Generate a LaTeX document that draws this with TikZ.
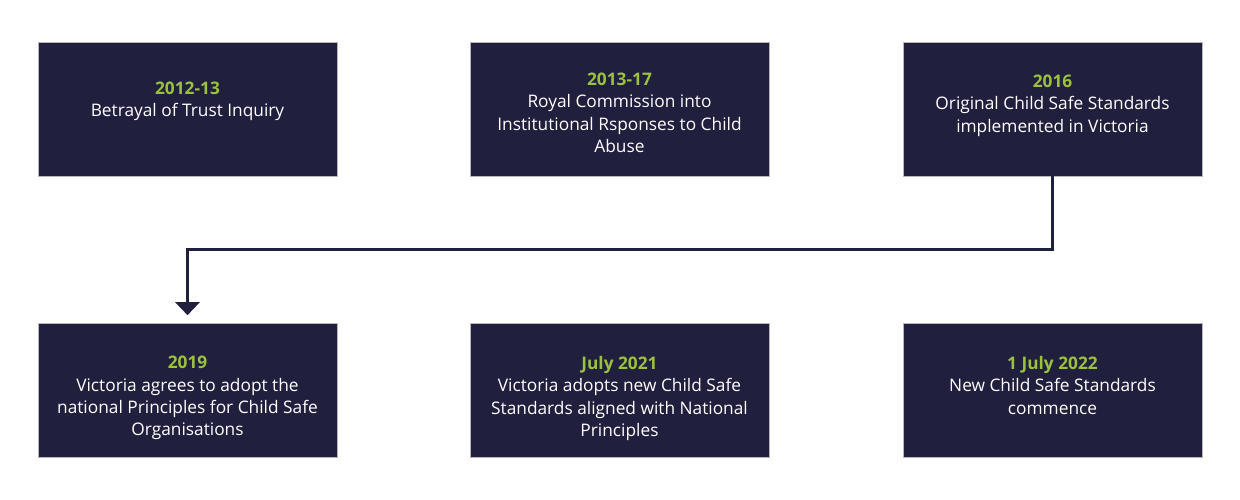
\documentclass[tikz,border=0pt]{standalone}
\usepackage{fontspec}
\setmainfont{Open Sans}
\usetikzlibrary{arrows.meta}
\definecolor{navy}{HTML}{201F3D}
\definecolor{lime}{HTML}{9BC23C}
\tikzset{
  eventbox/.style={draw=black!28, line width=0.6pt, fill=navy, minimum width=299pt, minimum height=134pt, inner sep=0pt},
  eventtext/.style={anchor=north, align=center, text=white, inner sep=0pt, font=\fontsize{17.3}{22.3}\selectfont},
  flow/.style={draw=navy, line width=3pt, -{Triangle[width=24pt,length=13pt]}}
}
\newcommand{\yr}[1]{{\color{lime}\bfseries #1}}

\begin{document}
\begin{tikzpicture}[x=1pt,y=1pt]
	%%%%% START %%%%%
	\useasboundingbox (0,0) rectangle (1240,500);
	
	% top row
	\node[eventbox] (trust) at (187.5, 391) {};
	\node[eventbox] (royal) at (619.5, 391) {};
	\node[eventbox] (orig) at (1052.5, 391) {};
	
	% bottom row
	\node[eventbox] (natl) at (187.5, 109.5) {};
	\node[eventbox] (adopt) at (619.5, 109.5) {};
	\node[eventbox] (commence) at (1052.5, 109.5) {};
	
	\node[eventtext] (trusttext) at ([yshift=-40pt]trust.north) {\yr{2012-13}\\Betrayal of Trust Inquiry};
	\node[eventtext] (royaltext) at ([yshift=-31pt]royal.north) {\yr{2013-17}\\Royal Commission into\\Institutional Rsponses to Child\\Abuse};
	\node[eventtext] (origtext) at ([yshift=-33pt]orig.north) {\yr{2016}\\Original Child Safe Standards\\implemented in Victoria};
	
	\node[eventtext] (natltext) at ([yshift=-33pt]natl.north) {\yr{2019}\\Victoria agrees to adopt the\\national Principles for Child Safe\\Organisations};
	\node[eventtext] (adopttext) at ([yshift=-33pt]adopt.north) {\yr{July 2021}\\Victoria adopts new Child Safe\\Standards aligned with National\\Principles};
	\node[eventtext] (commencetext) at ([yshift=-33pt]commence.north) {\yr{1 July 2022}\\New Child Safe Standards\\commence};
	
	\coordinate (turn) at ([yshift=-73pt]orig.south);
	\coordinate (tip) at ([yshift=8pt]natl.north);
	\draw[flow] (orig.south) -- (turn) -| (tip);
	
	%%%%% END %%%%%
\end{tikzpicture}
\end{document}
